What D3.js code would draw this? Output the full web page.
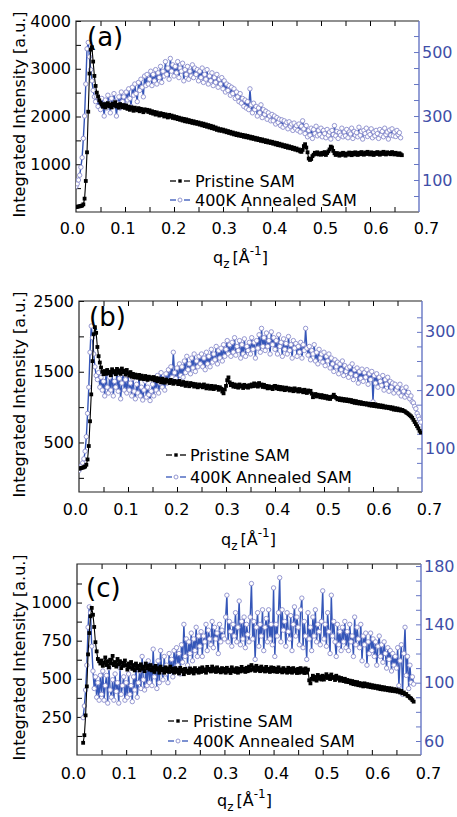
<!DOCTYPE html>
<html>
<head>
<meta charset="utf-8">
<script src="https://cdn.jsdelivr.net/npm/d3@7"></script>
<style>
  body { margin: 0; background: #fff; }
  svg { display: block; font-family: "DejaVu Sans", Verdana, sans-serif; }
</style>
</head>
<body>
<svg id="chart" width="457" height="817"></svg>
<script>
// q_z grid shared by all three panels (1/Angstrom)
const qz = [
  0,0.0025,0.005,0.0075,0.01,0.0125,0.015,0.0175,0.02,0.0225,0.025,0.0275,0.03,0.0325,0.035,0.0375,0.04,0.0425,0.045,0.0475,
  0.05,0.0525,0.055,0.0575,0.06,0.0625,0.065,0.0675,0.07,0.0725,0.075,0.0775,0.08,0.0825,0.085,0.0875,0.09,0.0925,0.095,0.0975,
  0.1,0.1025,0.105,0.1075,0.11,0.1125,0.115,0.1175,0.12,0.1225,0.125,0.1275,0.13,0.1325,0.135,0.1375,0.14,0.1425,0.145,0.1475,
  0.15,0.1525,0.155,0.1575,0.16,0.1625,0.165,0.1675,0.17,0.1725,0.175,0.1775,0.18,0.1825,0.185,0.1875,0.19,0.1925,0.195,0.1975,
  0.2,0.2025,0.205,0.2075,0.21,0.2125,0.215,0.2175,0.22,0.2225,0.225,0.2275,0.23,0.2325,0.235,0.2375,0.24,0.2425,0.245,0.2475,
  0.25,0.2525,0.255,0.2575,0.26,0.2625,0.265,0.2675,0.27,0.2725,0.275,0.2775,0.28,0.2825,0.285,0.2875,0.29,0.2925,0.295,0.2975,
  0.3,0.3025,0.305,0.3075,0.31,0.3125,0.315,0.3175,0.32,0.3225,0.325,0.3275,0.33,0.3325,0.335,0.3375,0.34,0.3425,0.345,0.3475,
  0.35,0.3525,0.355,0.3575,0.36,0.3625,0.365,0.3675,0.37,0.3725,0.375,0.3775,0.38,0.3825,0.385,0.3875,0.39,0.3925,0.395,0.3975,
  0.4,0.4025,0.405,0.4075,0.41,0.4125,0.415,0.4175,0.42,0.4225,0.425,0.4275,0.43,0.4325,0.435,0.4375,0.44,0.4425,0.445,0.4475,
  0.45,0.4525,0.455,0.4575,0.46,0.4625,0.465,0.4675,0.47,0.4725,0.475,0.4775,0.48,0.4825,0.485,0.4875,0.49,0.4925,0.495,0.4975,
  0.5,0.5025,0.505,0.5075,0.51,0.5125,0.515,0.5175,0.52,0.5225,0.525,0.5275,0.53,0.5325,0.535,0.5375,0.54,0.5425,0.545,0.5475,
  0.55,0.5525,0.555,0.5575,0.56,0.5625,0.565,0.5675,0.57,0.5725,0.575,0.5775,0.58,0.5825,0.585,0.5875,0.59,0.5925,0.595,0.5975,
  0.6,0.6025,0.605,0.6075,0.61,0.6125,0.615,0.6175,0.62,0.6225,0.625,0.6275,0.63,0.6325,0.635,0.6375,0.64,0.6425,0.645,0.6475,
  0.65,0.6525,0.655,0.6575,0.66,0.6625,0.665,0.6675,0.67,0.6725,0.675,0.6775,0.68,0.6825,0.685,0.6875,0.69,0.6925,0.695,0.6975
];

// (a) pristine, left axis
const aPristine = [
  105,110,115,120,125,135,160,280,650,1250,2100,2900,3400,3450,3150,2850,2640,2500,2420,2340,
  2290,2250,2205,2260,2190,2240,2280,2215,2250,2190,2270,2230,2300,2210,2245,2185,2260,2225,2195,2240,
  2180,2230,2160,2205,2140,2195,2170,2120,2185,2150,2130,2175,2110,2160,2135,2090,2150,2120,2140,2095,
  2130,2075,2110,2060,2095,2040,2085,2050,2020,2070,2030,2055,2000,2045,2015,1980,2035,1995,2020,1970,
  2005,1960,1990,1945,1975,1930,1960,1915,1950,1900,1940,1890,1925,1880,1910,1865,1900,1855,1885,1845,
  1875,1830,1860,1815,1850,1800,1835,1785,1820,1770,1805,1755,1790,1740,1770,1720,1750,1705,1735,1700,
  1725,1685,1710,1670,1695,1655,1680,1640,1665,1625,1650,1610,1640,1600,1625,1590,1615,1575,1605,1565,
  1595,1555,1580,1540,1570,1530,1555,1515,1545,1505,1530,1490,1520,1480,1505,1465,1495,1455,1480,1445,
  1470,1430,1455,1415,1445,1400,1430,1390,1415,1375,1400,1360,1390,1345,1375,1335,1360,1320,1345,1305,
  1330,1290,1310,1270,1260,1300,1380,1420,1350,1250,1120,1090,1110,1170,1200,1240,1215,1250,1205,1230,
  1200,1240,1210,1255,1195,1235,1270,1310,1370,1350,1280,1230,1195,1235,1205,1180,1225,1195,1240,1210,
  1180,1225,1200,1245,1215,1190,1240,1205,1250,1215,1195,1240,1210,1255,1220,1200,1245,1215,1260,1225,
  1205,1250,1220,1195,1240,1215,1255,1225,1200,1245,1215,1260,1230,1205,1250,1220,1240,1210,1255,1230,
  1205,1240,1215,1195,1230,1210,1190
];
// (a) 400 K annealed, right axis
const aAnnealed = [
  80,88,100,115,140,170,230,300,400,510,530,485,445,410,380,360,345,360,330,350,
  320,355,335,300,350,325,365,340,310,355,330,370,345,300,340,360,325,375,345,360,
  335,375,350,385,355,330,390,365,400,370,345,405,380,415,390,360,425,395,430,400,
  415,440,395,430,410,445,400,435,420,455,405,440,425,470,430,450,415,480,440,460,
  425,455,435,470,420,450,440,465,410,445,430,455,415,440,425,460,420,450,430,445,
  410,440,420,450,405,430,415,445,400,425,410,435,395,420,405,430,390,415,400,420,
  385,410,375,400,380,395,365,390,370,385,355,375,360,345,370,340,355,330,350,325,
  345,320,385,335,310,340,320,330,300,325,310,335,295,320,305,315,290,310,300,285,
  305,285,300,275,295,280,290,270,288,265,285,272,280,260,282,268,275,255,278,262,
  270,255,275,250,268,285,260,245,270,235,255,240,262,230,258,245,268,238,255,242,
  262,235,255,245,232,258,240,250,228,255,242,270,238,252,230,248,240,262,235,250,
  238,258,232,250,244,262,230,252,240,248,235,265,240,252,228,255,245,262,236,250,
  242,260,232,250,238,255,245,230,258,240,252,235,262,242,250,228,256,240,260,238,
  250,236,255,242,248,232
];

// (b) pristine, left axis
const bPristine = [
  130,135,140,145,150,160,185,260,450,800,1180,1650,2030,2130,2050,1850,1720,1630,1560,1500,
  1465,1510,1470,1525,1480,1500,1450,1535,1490,1510,1465,1540,1485,1520,1470,1545,1495,1515,1460,1525,
  1480,1445,1495,1430,1470,1420,1460,1440,1415,1455,1400,1445,1420,1395,1440,1410,1385,1430,1400,1420,
  1390,1425,1380,1410,1365,1405,1385,1350,1400,1370,1345,1390,1360,1375,1340,1385,1355,1330,1370,1345,
  1360,1325,1370,1335,1315,1355,1330,1300,1345,1320,1295,1340,1310,1330,1290,1325,1300,1280,1320,1295,
  1310,1280,1320,1290,1265,1305,1285,1260,1300,1275,1255,1295,1270,1285,1245,1280,1260,1220,1195,1250,
  1300,1380,1420,1350,1310,1330,1290,1320,1285,1310,1275,1320,1290,1305,1270,1315,1285,1300,1275,1310,
  1290,1320,1295,1335,1300,1325,1290,1340,1305,1320,1285,1315,1280,1300,1265,1295,1270,1285,1255,1290,
  1300,1265,1290,1255,1285,1250,1280,1260,1240,1275,1250,1265,1235,1260,1245,1225,1265,1235,1250,1220,
  1255,1225,1240,1210,1245,1220,1200,1235,1215,1230,1190,1140,1170,1185,1150,1175,1160,1140,1170,1135,
  1160,1130,1155,1120,1145,1115,1140,1150,1175,1145,1130,1110,1125,1100,1120,1095,1115,1090,1110,1085,
  1105,1080,1100,1070,1090,1060,1085,1055,1075,1050,1070,1045,1060,1040,1055,1035,1050,1025,1045,1020,
  1045,1015,1040,1010,1030,1005,1025,1000,1020,995,1010,990,1005,985,1000,975,995,965,985,960,
  980,955,970,950,960,945,940,925,915,900,885,870,850,820,790,760,730,700,665,640
];
// (b) 400 K annealed, right axis
const bAnnealed = [
  62,66,70,75,82,95,120,160,205,265,310,290,262,240,225,218,230,205,222,200,
  215,190,228,205,195,222,200,230,190,215,205,232,198,220,185,212,228,200,218,195,
  225,200,212,190,220,198,185,210,195,222,190,205,183,200,215,188,205,192,182,198,
  210,190,218,200,225,195,212,230,205,220,200,228,212,235,215,240,222,265,230,220,
  238,215,245,225,240,222,250,230,258,235,245,228,255,238,262,232,250,240,258,245,
  262,240,255,235,265,245,258,240,270,248,262,252,275,245,268,255,272,250,278,258,
  270,285,262,278,258,282,265,290,260,275,268,285,255,278,262,288,258,275,268,282,
  262,290,270,282,255,285,272,295,265,306,275,290,268,298,275,285,262,300,278,290,
  270,285,262,295,275,282,258,288,270,280,262,292,268,278,255,285,272,280,258,275,
  265,282,255,278,268,306,272,260,275,252,268,262,278,250,265,245,270,255,262,248,
  265,242,258,250,262,238,255,245,232,252,240,248,228,245,235,250,225,242,232,238,
  222,240,228,245,218,235,225,238,212,232,220,236,215,230,222,235,210,228,218,232,
  180,225,212,228,205,222,215,208,225,200,218,210,222,198,215,205,212,195,210,200,
  205,195,210,190,202,198,188,205,192,196,185,190,180,178,172,168,160,155,150,145
];

// (c) pristine, left axis
const cPristine = [
  null,null,null,null,null,80,130,260,450,660,800,910,965,920,840,740,680,630,615,600,
  620,585,605,640,590,615,575,625,600,650,590,610,580,630,595,615,570,605,585,620,
  590,560,600,575,610,565,590,555,600,570,585,555,595,565,580,550,600,570,585,560,
  590,555,575,545,585,560,570,540,580,555,565,540,575,550,568,545,580,550,565,540,
  570,545,560,535,572,548,560,530,565,545,555,538,568,545,560,535,570,548,558,540,
  568,545,575,550,562,540,578,555,565,548,580,552,568,545,575,550,562,542,570,548,
  565,540,572,548,560,538,575,550,562,545,570,540,565,548,578,552,565,545,572,550,
  580,555,590,560,575,552,585,558,572,550,580,555,568,548,578,552,565,545,575,550,
  572,548,565,545,575,550,562,542,570,548,560,540,572,545,565,540,570,548,560,538,
  565,540,570,545,562,538,568,540,560,490,470,500,520,495,512,488,525,500,515,495,
  520,495,512,530,505,518,498,528,505,512,492,520,500,510,488,505,495,485,500,480,
  492,478,488,470,485,465,480,462,478,458,472,455,468,450,470,452,465,448,462,445,
  458,442,455,440,452,436,450,432,446,430,444,428,440,425,438,422,436,420,432,418,
  430,415,425,410,420,405,410,398,400,388,385,375,370,360,350
];
// (c) 400 K annealed, right axis
const cAnnealed = [
  null,null,null,null,null,76,84,95,112,138,152,148,125,108,96,104,90,100,88,105,
  92,108,88,98,105,86,110,95,90,102,88,106,94,100,86,110,92,98,104,88,
  100,90,106,92,98,87,104,95,112,90,100,108,96,118,102,95,110,98,115,100,
  112,98,123,104,110,96,115,100,122,108,102,118,106,112,100,120,108,116,104,122,
  110,124,112,120,106,126,114,140,118,130,112,128,120,134,115,130,122,138,118,132,
  125,135,118,132,128,140,122,136,130,126,142,124,138,130,134,120,140,128,136,132,
  130,145,160,128,142,135,125,140,132,148,128,138,156,126,142,130,145,124,140,133,
  128,145,168,130,142,116,138,148,125,140,132,150,122,138,144,128,150,130,140,126,
  165,118,140,132,148,172,128,150,136,142,125,148,135,130,146,122,140,152,132,145,
  138,126,150,158,124,142,132,116,148,130,138,122,145,132,150,128,140,135,126,142,
  163,130,140,125,148,135,120,160,132,142,128,118,140,126,135,122,138,128,142,124,
  135,122,140,128,132,118,145,126,138,130,124,140,115,132,126,134,112,128,120,134,
  122,130,118,128,112,125,132,118,126,114,128,120,110,124,116,122,108,120,112,118,
  110,124,98,115,126,92,120,138,105,118,96,112,100,104,99
];

// ticks and labels
const xTicks = [0.05,0.1,0.15,0.2,0.25,0.3,0.35,0.4,0.45,0.5,0.55,0.6,0.65];
const xLabels = [0,0.1,0.2,0.3,0.4,0.5,0.6,0.7];
const aLeftTicks = [500,1000,1500,2000,2500,3000,3500];
const aLeftLabels = [1000,2000,3000,4000];
const aRightTicks = [50,100,150,200,250,300,350,400,450,500,550];
const aRightLabels = [100,300,500];
const bLeftTicks = [0,500,1000,1500,2000];
const bLeftLabels = [500,1500,2500];
const bRightTicks = [50,75,100,125,150,175,200,225,250,275,300,325];
const bRightLabels = [100,200,300];
const cLeftTicks = [125,250,375,500,625,750,875,1000,1125];
const cLeftLabels = [250,500,750,1000];
const cRightTicks = [60,70,80,90,100,110,120,130,140,150,160,170];
const cRightLabels = [60,100,140,180];

const seriesNames = ["Pristine SAM", "400K Annealed SAM"];
const blueLine = "#3556b8";
const blueMark = "#8a8ccc";
const blueText = "#3f4fa8";
const blueAxis = "#6676c4";

const svg = d3.select("#chart");

function drawPanel(p) {
  const x = d3.scaleLinear().domain([0, 0.7]).range([p.left, p.right]);
  // tick labels sit a little wider than the ticks in the original figure
  const xLab = d3.scaleLinear().domain([0, 0.7]).range([p.left - 3.5, p.right + 7.5]);
  const yL = d3.scaleLinear().domain(p.leftDomain).range([p.bottom, p.top]);
  const yR = d3.scaleLinear().domain(p.rightDomain).range([p.bottom, p.top]);
  const g = svg.append("g");

  g.append("clipPath").attr("id", "clip-" + p.id)
    .append("rect")
    .attr("x", p.left).attr("y", p.top)
    .attr("width", p.right - p.left).attr("height", p.bottom - p.top);

  // ticks, all pointing inwards
  g.append("g").attr("transform", `translate(0,${p.bottom})`)
    .call(d3.axisBottom(x).tickValues(xTicks).tickSizeInner(-5).tickSizeOuter(0).tickFormat(""))
    .call(s => s.select(".domain").remove());
  g.append("g").attr("transform", `translate(0,${p.top})`)
    .call(d3.axisTop(x).tickValues(xTicks).tickSizeInner(-5).tickSizeOuter(0).tickFormat(""))
    .call(s => s.select(".domain").remove());

  g.append("g").attr("transform", `translate(${p.left},0)`)
    .call(d3.axisLeft(yL).tickValues(p.leftTicks.concat(p.leftLabels.filter(v => !p.leftTicks.includes(v))))
      .tickSizeInner(-5).tickSizeOuter(0).tickPadding(5)
      .tickFormat(d => p.leftLabels.includes(d) ? d : ""))
    .call(s => s.select(".domain").remove())
    .attr("font-size", 16).attr("font-family", null);

  g.append("g").attr("transform", `translate(${p.right},0)`)
    .attr("color", blueAxis)
    .call(d3.axisRight(yR).tickValues(p.rightTicks.concat(p.rightLabels.filter(v => !p.rightTicks.includes(v))))
      .tickSizeInner(-5).tickSizeOuter(0).tickPadding(3)
      .tickFormat(d => p.rightLabels.includes(d) ? d : ""))
    .call(s => s.select(".domain").remove())
    .attr("font-size", 16).attr("font-family", null)
    .selectAll("text").attr("fill", blueText);

  g.selectAll(".xlab").data(xLabels).join("text")
    .attr("class", "xlab")
    .attr("x", d => xLab(d))
    .attr("y", p.bottom + p.labelGap)
    .attr("text-anchor", "middle")
    .attr("font-size", 16)
    .text(d => d.toFixed(1));

  // frame
  g.append("path")
    .attr("d", `M${p.right},${p.top}H${p.left}V${p.bottom}H${p.right}`)
    .attr("fill", "none").attr("stroke", "#222").attr("stroke-width", 1.2);
  g.append("line")
    .attr("x1", p.right).attr("x2", p.right).attr("y1", p.top).attr("y2", p.bottom)
    .attr("stroke", blueAxis).attr("stroke-width", 1.4);

  // series
  const black = p.pristine.map((v, i) => ({ q: qz[i], v })).filter(d => d.v != null);
  const blue = p.annealed.map((v, i) => ({ q: qz[i], v })).filter(d => d.v != null);
  const plot = g.append("g").attr("clip-path", `url(#clip-${p.id})`);

  plot.append("path").datum(blue)
    .attr("fill", "none").attr("stroke", blueLine).attr("stroke-width", 1.4)
    .attr("d", d3.line().x(d => x(d.q)).y(d => yR(d.v)));
  plot.selectAll(".bc").data(blue).join("circle")
    .attr("class", "bc")
    .attr("cx", d => x(d.q)).attr("cy", d => yR(d.v)).attr("r", 2.2)
    .attr("fill", "#fff").attr("stroke", blueMark).attr("stroke-width", 0.9);

  plot.append("path").datum(black)
    .attr("fill", "none").attr("stroke", "#000").attr("stroke-width", 1.1)
    .attr("d", d3.line().x(d => x(d.q)).y(d => yL(d.v)));
  plot.selectAll(".ks").data(black).join("rect")
    .attr("class", "ks")
    .attr("x", d => x(d.q) - 1.9).attr("y", d => yL(d.v) - 1.9)
    .attr("width", 3.8).attr("height", 3.8)
    .attr("fill", "#000");

  // panel letter
  g.append("text").attr("x", p.letterX).attr("y", p.letterY)
    .attr("font-size", 26).text(p.letter);

  // y title
  g.append("text")
    .attr("transform", `translate(25,${(p.top + p.bottom) / 2 - 2}) rotate(-90)`)
    .attr("text-anchor", "middle").attr("font-size", 16)
    .text("Integrated Intensity [a.u.]");

  // x title: q_z [Å^-1]
  const xt = g.append("text").attr("x", p.titleX).attr("y", p.titleY).attr("font-size", 16);
  xt.append("tspan").text("q");
  xt.append("tspan").attr("font-size", 12).attr("dy", 5).text("z");
  xt.append("tspan").attr("dy", -5).attr("dx", 3).text("[Å");
  xt.append("tspan").attr("font-size", 12).attr("dy", -8).text("-1");
  xt.append("tspan").attr("dy", 8).text("]");

  // legend
  const leg = g.append("g");
  seriesNames.forEach((name, i) => {
    const ly = p.legendY[i];
    const sx = p.legendX;
    const col = i === 0 ? "#000" : blueLine;
    leg.append("line").attr("x1", sx).attr("x2", sx + 6).attr("y1", ly).attr("y2", ly)
      .attr("stroke", col).attr("stroke-width", 1.3);
    leg.append("line").attr("x1", sx + 14).attr("x2", sx + 20).attr("y1", ly).attr("y2", ly)
      .attr("stroke", col).attr("stroke-width", 1.3);
    if (i === 0) {
      leg.append("rect").attr("x", sx + 8.3).attr("y", ly - 1.7).attr("width", 3.4).attr("height", 3.4)
        .attr("fill", "#000");
    } else {
      leg.append("circle").attr("cx", sx + 10).attr("cy", ly).attr("r", 2)
        .attr("fill", "#fff").attr("stroke", blueMark).attr("stroke-width", 0.9);
    }
    leg.append("text").attr("x", p.legendTextX).attr("y", ly + 6)
      .attr("font-size", 16).text(name);
  });
}

const panels = [
  { id: "a", letter: "(a)", left: 76, right: 419, top: 21, bottom: 212,
    leftDomain: [0, 4000], rightDomain: [0, 597],
    leftTicks: aLeftTicks, leftLabels: aLeftLabels,
    rightTicks: aRightTicks, rightLabels: aRightLabels,
    pristine: aPristine, annealed: aAnnealed,
    letterX: 87, letterY: 46, labelGap: 22, titleX: 213, titleY: 263,
    legendX: 170, legendTextX: 195, legendY: [181, 200] },
  { id: "b", letter: "(b)", left: 79, right: 422, top: 301, bottom: 492,
    leftDomain: [-200, 2500], rightDomain: [25, 353],
    leftTicks: bLeftTicks, leftLabels: bLeftLabels,
    rightTicks: bRightTicks, rightLabels: bRightLabels,
    pristine: bPristine, annealed: bAnnealed,
    letterX: 89, letterY: 326, labelGap: 23, titleX: 221, titleY: 545,
    legendX: 166, legendTextX: 190, legendY: [455, 477] },
  { id: "c", letter: "(c)", left: 77, right: 421, top: 564, bottom: 755,
    leftDomain: [0, 1253], rightDomain: [50.4, 181.4],
    leftTicks: cLeftTicks, leftLabels: cLeftLabels,
    rightTicks: cRightTicks, rightLabels: cRightLabels,
    pristine: cPristine, annealed: cAnnealed,
    letterX: 86, letterY: 597, labelGap: 24, titleX: 217, titleY: 806,
    legendX: 168, legendTextX: 193, legendY: [721, 741] }
];

panels.forEach(drawPanel);
</script>
</body>
</html>
